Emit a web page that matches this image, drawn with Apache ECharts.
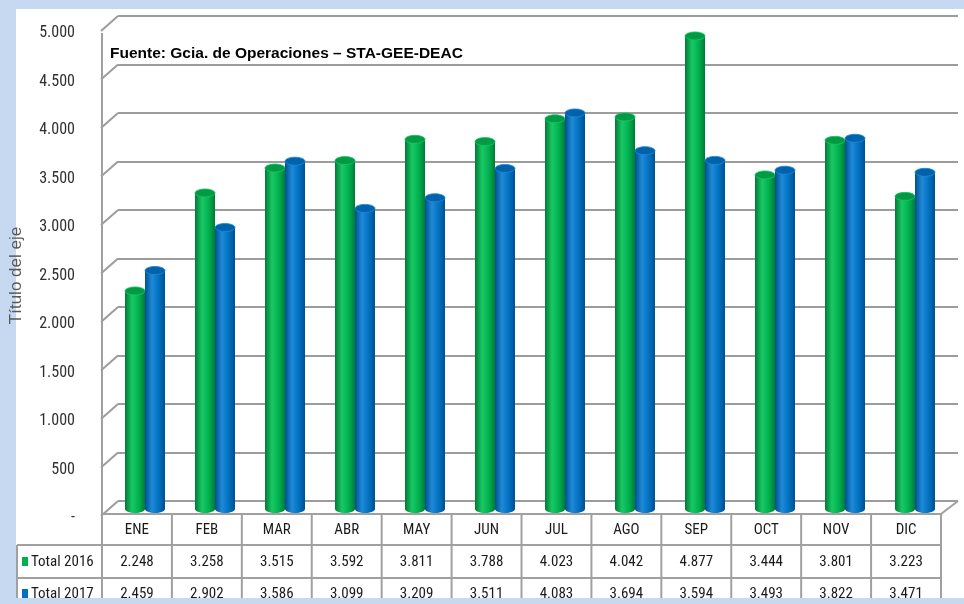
<!DOCTYPE html>
<html>
<head>
<meta charset="utf-8">
<script src="https://cdn.jsdelivr.net/npm/echarts@6/dist/echarts.min.js"></script>
<style>html,body{margin:0;padding:0;background:#c6d9f1}#c{width:964px;height:604px}</style>
</head>
<body>
<div id="c"></div>
<script>
const categories = ['ENE','FEB','MAR','ABR','MAY','JUN','JUL','AGO','SEP','OCT','NOV','DIC'];
const total2016 = [2248,3258,3515,3592,3811,3788,4023,4042,4877,3444,3801,3223];
const total2017 = [2459,2902,3586,3099,3209,3511,4083,3694,3594,3493,3822,3471];
const seriesNames = ['Total 2016','Total 2017'];
const yTicks = [0,500,1000,1500,2000,2500,3000,3500,4000,4500,5000];
const sourceText = 'Fuente: Gcia. de Operaciones \u2013 STA-GEE-DEAC';
const axisTitle = 'Título del eje';

const NARROW = "'Liberation Sans Narrow','Roboto Condensed','Liberation Sans',sans-serif";

function fmt(v){
  if (v === 0) return '-';
  if (v < 1000) return String(v);
  return Math.floor(v/1000) + '.' + String(v % 1000).padStart(3,'0');
}

const DX = -17, DY = 15;      // front offset of the 3D walls
const BX = -8, BY = 8;        // mid-depth offset for bars
const BW = 20;

function cylinder(side, c){
  return function(params, api){
    const i = api.value(0), v = api.value(1);
    const t = api.coord([i, v]);
    const b = api.coord([i, 0]);
    const cx = t[0] + BX + side * BW / 2;
    const ty = t[1] + BY, by = b[1] + BY;
    const x0 = cx - BW/2;
    const grad = new echarts.graphic.LinearGradient(0,0,1,0,[
      {offset:0,color:c.dark},{offset:0.35,color:c.light},{offset:0.7,color:c.main},{offset:1,color:c.dark}
    ]);
    return {type:'group', children:[
      {type:'ellipse', shape:{cx:cx, cy:by, rx:BW/2, ry:4}, style:{fill:grad}},
      {type:'rect', shape:{x:x0, y:ty, width:BW, height:by-ty}, style:{fill:grad}},
      {type:'ellipse', shape:{cx:cx, cy:ty, rx:BW/2, ry:4}, style:{fill:c.top, stroke:c.light, lineWidth:0.8}}
    ]};
  };
}

const green = {dark:'#007a35', light:'#19c865', main:'#00b04f', top:'#009a44'};
const blue  = {dark:'#00508f', light:'#1f8ad8', main:'#0070c0', top:'#0062aa'};

const chart = echarts.init(document.getElementById('c'));

// table graphics
const colX0 = 102, colW = (941 - 102) / 12;
const rowTop = 514, r1 = 545, r2 = 578, rowBot = 604;
const tableEls = [];
const lineStyle = {stroke:'#a0a0a0', lineWidth:2};
tableEls.push({type:'line', z:20, shape:{x1:colX0,y1:rowTop,x2:941,y2:rowTop}, style:lineStyle});
tableEls.push({type:'line', z:20, shape:{x1:17,y1:r1,x2:941,y2:r1}, style:lineStyle});
tableEls.push({type:'line', z:20, shape:{x1:17,y1:r2,x2:941,y2:r2}, style:lineStyle});
tableEls.push({type:'line', z:20, shape:{x1:17,y1:r1,x2:17,y2:rowBot}, style:lineStyle});
for (let k = 0; k <= categories.length; k++){
  const x = colX0 + k*colW;
  tableEls.push({type:'line', z:20, shape:{x1:x,y1:(k===0?33:rowTop),x2:x,y2:rowBot}, style:lineStyle});
}
// right floor edge
tableEls.push({type:'line', z:20, shape:{x1:958,y1:501,x2:941,y2:rowTop}, style:lineStyle});
const txtStyle = (s, x, y) => ({type:'text', z:21, x:x, y:y, style:{text:s, fill:'#1a1a1a', font:'15px ' + NARROW, align:'center', verticalAlign:'middle'}});
categories.forEach((c,k)=>{
  const cx = colX0 + (k+0.5)*colW;
  tableEls.push(txtStyle(c, cx, 530));
  tableEls.push(txtStyle(fmt(total2016[k]), cx, 562));
  tableEls.push(txtStyle(fmt(total2017[k]), cx, 594));
});
[[seriesNames[0], green.main, 562],[seriesNames[1], blue.main, 594]].forEach(([n,col,y])=>{
  tableEls.push({type:'rect', z:21, shape:{x:22,y:y-5,width:6,height:9}, style:{fill:col}});
  tableEls.push({type:'text', z:21, x:31, y:y, style:{text:n, fill:'#1a1a1a', font:'15px ' + NARROW, align:'left', verticalAlign:'middle'}});
});

chart.setOption({
  backgroundColor:'#c6d9f1',
  animation:false,
  title:{text:sourceText, left:110, top:46, padding:0,
    textStyle:{fontSize:15.5, fontWeight:'bold', color:'#000', fontFamily:"'Liberation Sans',sans-serif"}},
  graphic:[
    {type:'rect', z:-100, shape:{x:16,y:9,width:948,height:589}, style:{fill:'#ffffff'}},
    ...tableEls,
    {type:'rect', z:30, shape:{x:0,y:598,width:964,height:6}, style:{fill:'#c6d9f1'}}
  ],
  grid:[
    {left:118, right:6, top:16, bottom:103},
    {left:102, right:23, top:33, bottom:86}
  ],
  xAxis:[
    {type:'category', gridIndex:0, data:categories, show:false},
    {type:'category', gridIndex:1, data:categories, show:false}
  ],
  yAxis:[
    {type:'value', gridIndex:0, min:0, max:5000, interval:500,
      axisLabel:{show:false}, axisLine:{show:false}, axisTick:{show:false},
      splitLine:{show:true, lineStyle:{color:'#9c9c9c', width:2}}},
    {type:'value', gridIndex:1, min:0, max:5000, interval:500,
      name:axisTitle, nameLocation:'middle', nameGap:80, nameRotate:90,
      nameTextStyle:{fontSize:17, color:'#595959', fontFamily:"'Liberation Sans',sans-serif"},
      axisLine:{show:false}, axisTick:{show:false}, splitLine:{show:false},
      axisLabel:{margin:30, color:'#303030', fontSize:16, fontFamily:NARROW, formatter:fmt}}
  ],
  series:[
    {type:'custom', name:'walls', xAxisIndex:0, yAxisIndex:0, z:1,
      data:yTicks.map(v=>[0,v]),
      renderItem:function(params, api){
        const p = api.coord([0, api.value(1)]);
        const x = params.coordSys.x;
        return {type:'line', shape:{x1:x, y1:p[1], x2:x+DX, y2:p[1]+DY}, style:{stroke:'#9c9c9c', lineWidth:2}};
      }},
    {type:'custom', name:seriesNames[0], xAxisIndex:0, yAxisIndex:0, z:5,
      data:total2016.map((v,i)=>[i,v]), renderItem:cylinder(-1, green)},
    {type:'custom', name:seriesNames[1], xAxisIndex:0, yAxisIndex:0, z:6,
      data:total2017.map((v,i)=>[i,v]), renderItem:cylinder(1, blue)}
  ]
});
</script>
</body>
</html>
